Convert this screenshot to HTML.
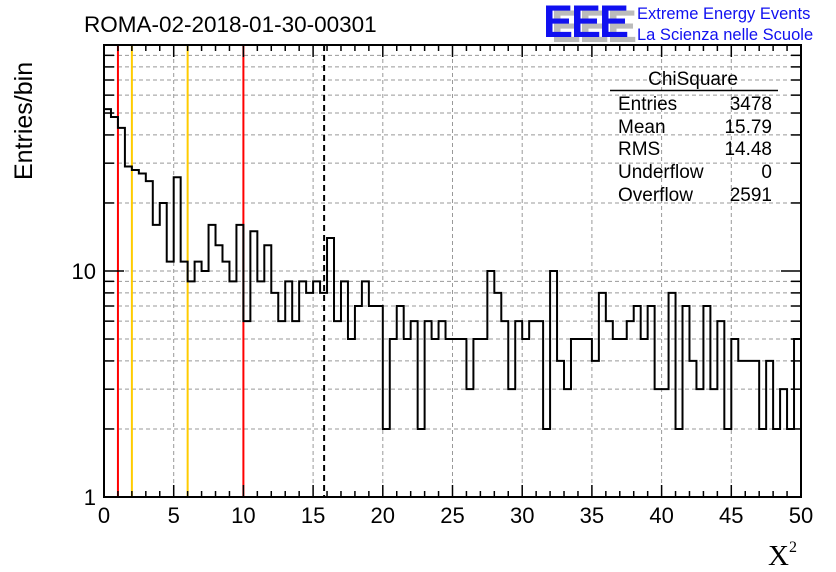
<!DOCTYPE html>
<html><head><meta charset="utf-8"><style>
html,body{margin:0;padding:0;background:#fff;}
svg{display:block;font-family:"Liberation Sans",sans-serif;}
</style></head><body>
<svg id="chart" width="836" height="572" viewBox="0 0 836 572" xmlns="http://www.w3.org/2000/svg">
<rect width="836" height="572" fill="#fff"/>
<g id="grid"></g>
<g id="lines"></g>
<path id="hist" fill="none" stroke="#000" stroke-width="2"/>
<g id="axes"></g>
<text x="84" y="32" font-size="22.5">ROMA-02-2018-01-30-00301</text>
<g>
<text x="551" y="42" font-size="45" font-weight="bold" fill="#bbb" letter-spacing="-2">EEE</text>
<text x="543" y="37" font-size="45" font-weight="bold" fill="#1010f0" letter-spacing="-2">EEE</text>
<text x="637" y="19" font-size="16.5" fill="#1010f0">Extreme Energy Events</text>
<text x="637" y="40" font-size="16.5" fill="#1010f0">La Scienza nelle Scuole</text>
</g>
<g font-size="19">
<text x="693" y="85" text-anchor="middle">ChiSquare</text>
<line x1="610" y1="90.5" x2="778" y2="90.5" stroke="#000" stroke-width="1.5"/>
<text x="618" y="110">Entries</text><text x="772" y="110" text-anchor="end">3478</text>
<text x="618" y="133">Mean</text><text x="772" y="133" text-anchor="end">15.79</text>
<text x="618" y="155">RMS</text><text x="772" y="155" text-anchor="end">14.48</text>
<text x="618" y="178">Underflow</text><text x="772" y="178" text-anchor="end">0</text>
<text x="618" y="201">Overflow</text><text x="772" y="201" text-anchor="end">2591</text>
</g>
<text transform="translate(32,180) rotate(-90)" font-size="25">Entries/bin</text>
<text x="768" y="565" font-size="29" font-family="Liberation Serif,serif">X<tspan font-size="16" dy="-13">2</tspan></text>
</svg>
<script>
const binEdgesStart = 0;
const binWidth = 0.5;
const counts = [52,48,43,29,28,27,25,16,20,11,26,11,9,11,10,16,13,11,9,16,6,15,9,13,8,6,9,6,9,8,9,8,14,6,9,5,7,9,7,7,2,5,7,5,6,2,6,5,6,5,5,5,3,5,5,10,8,6,3,6,5,6,6,2,10,4,3,5,5,5,4,8,6,5,5,6,7,5,7,3,3,8,2,7,4,3,7,3,6,2,5,4,4,4,2,4,2,3,2,5];
const xTicks = [0,5,10,15,20,25,30,35,40,45,50];
const yTickLabels = [1,10];
const redLines = [1,10];
const orangeLines = [2,6];
const meanValue = 15.79;

const NS="http://www.w3.org/2000/svg";
const X0=104,X1=801,Y0=497,YT=45;
const sx=v=>X0+(v-0)/(50-0)*(X1-X0);
const sy=v=>Y0-(Math.log10(v)-0)/(2-0)*(Y0-YT);
function mk(tag,attrs,parent){const e=document.createElementNS(NS,tag);for(const k in attrs)e.setAttribute(k,attrs[k]);parent.appendChild(e);return e;}
const grid=document.getElementById('grid'),axes=document.getElementById('axes'),lines=document.getElementById('lines');
for(const t of xTicks){ if(t===0||t===50) continue;
  const g=mk('line',{x1:sx(t),x2:sx(t),y1:YT,y2:Y0,stroke:'#999','stroke-dasharray':'4,3','stroke-width':1},grid);
  
  
}
for(let d=1;d<100;d*=10)for(let m=1;m<=9;m++){const v=d*m; if(v<=1||v>=100)continue;
  const g=mk('line',{x1:X0,x2:X1,y1:sy(v),y2:sy(v),stroke:'#999','stroke-dasharray':'4,3','stroke-width':1},grid);
  
  
}
for(const v of redLines){const l=mk('line',{x1:sx(v),x2:sx(v),y1:YT,y2:Y0,stroke:'#f00','stroke-width':2},lines);
  
  }
for(const v of orangeLines){const l=mk('line',{x1:sx(v),x2:sx(v),y1:YT,y2:Y0,stroke:'#fc0','stroke-width':2},lines);
  
  }
const ml=mk('line',{x1:sx(meanValue),x2:sx(meanValue),y1:YT,y2:Y0,stroke:'#000','stroke-width':2,'stroke-dasharray':'6,4'},lines);


let d='M'+X0+','+Y0;
counts.forEach((c,i)=>{const a=sx(binEdgesStart+i*binWidth),b=sx(binEdgesStart+(i+1)*binWidth);const y=c>0?sy(c):Y0;d+=' L'+a+','+y+' L'+b+','+y;});
d+=' L'+X1+','+Y0;
document.getElementById('hist').setAttribute('d',d);
const fr=mk('rect',{x:X0,y:YT,width:X1-X0,height:Y0-YT,fill:'none',stroke:'#000','stroke-width':2},axes);


for(let v=0;v<=50;v++){const L=v%5===0?12:6;
  mk('line',{x1:sx(v),x2:sx(v),y1:Y0,y2:Y0-L,stroke:'#000','stroke-width':1.5},axes);
  mk('line',{x1:sx(v),x2:sx(v),y1:YT,y2:YT+L,stroke:'#000','stroke-width':1.5},axes);}
for(const t of xTicks){const tx=mk('text',{x:sx(t),y:523,'font-size':22,'text-anchor':'middle'},axes);tx.textContent=t;
  
  }
for(let dd=1;dd<100;dd*=10)for(let m=1;m<=9;m++){const v=dd*m;if(v<=1)continue;const L=m===1?20:10;
  mk('line',{x1:X0,x2:X0+L,y1:sy(v),y2:sy(v),stroke:'#000','stroke-width':1.5},axes);
  mk('line',{x1:X1,x2:X1-L,y1:sy(v),y2:sy(v),stroke:'#000','stroke-width':1.5},axes);}
for(const t of yTickLabels){const tx=mk('text',{x:96,y:sy(t)+8,'font-size':22,'text-anchor':'end'},axes);tx.textContent=t;
  
  }
</script>
</body></html>
